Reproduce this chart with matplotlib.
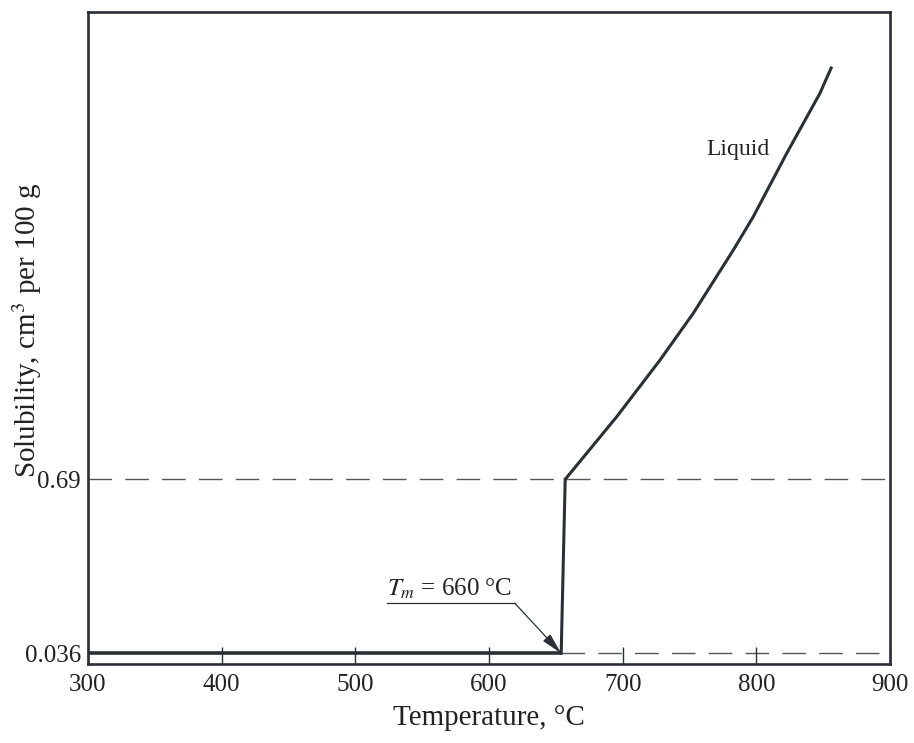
import matplotlib.pyplot as plt

plt.rcParams['font.family'] = ['Liberation Serif', 'DejaVu Serif']
plt.rcParams['mathtext.fontset'] = 'stix'

# solid-state solubility (flat) then jump at melting point
solid_t = [300, 654]
solid_s = [0.036, 0.036]
jump_t = [654, 657]
jump_s = [0.036, 0.69]
# liquid branch
liquid_t = [657, 695.5, 727.9, 752.8, 782.8, 797.7, 822.7, 847.6, 856.4]
liquid_s = [0.69, 0.925, 1.138, 1.314, 1.552, 1.677, 1.915, 2.141, 2.241]

xticks = [300, 400, 500, 600, 700, 800, 900]
yticks = [0.036, 0.69]
ytick_labels = ['0.036', '0.69']

ink = '#2b2f36'

fig = plt.figure(figsize=(9.14, 7.43), dpi=100)
ax = fig.add_axes([88/914, 1 - 664/743, (890-88)/914, (664-11.7)/743])

# reference dashed levels
ax.axhline(0.69, color='#555555', lw=1, ls=(0, (17, 9.5)), zorder=1)
ax.plot([654, 900], [0.036, 0.036], color='#555555', lw=1, ls=(0, (17, 9.5)), zorder=1)

ax.plot(solid_t, solid_s, color=ink, lw=2.6, solid_capstyle='butt', zorder=3)
ax.plot(jump_t, jump_s, color=ink, lw=2.2, zorder=3)
ax.plot(liquid_t, liquid_s, color=ink, lw=2.2, solid_capstyle='butt', zorder=3)

ax.set_xlim(300, 900)
ax.set_ylim(-0.004, 2.4475)
ax.set_xticks(xticks)
ax.set_yticks(yticks)
ax.set_yticklabels(ytick_labels)
ax.tick_params(axis='x', direction='in', length=12, width=1, color=ink,
               labelsize=18, pad=7, labelcolor='#222222')
ax.tick_params(axis='y', length=0, labelsize=18, pad=5, labelcolor='#222222')
for s in ax.spines.values():
    s.set_linewidth(1.9)
    s.set_color(ink)

# melting point annotation
ax.text(524, 0.232, r'$T_m$ = 660 °C', fontsize=18, color='#222222',
        ha='left', va='bottom')
ax.plot([523.7, 619.4], [0.224, 0.224], color=ink, lw=0.9)
ax.annotate('', xy=(654, 0.036), xytext=(619.4, 0.224),
            arrowprops=dict(arrowstyle='-|>,head_length=1.3,head_width=0.3',
                            color=ink, lw=0.9, shrinkA=0, shrinkB=0))

ax.text(786, 1.93, 'Liquid', fontsize=17, color='#222222', ha='center', va='center')

fig.text(489/914, 1 - 718/743, 'Temperature, °C', fontsize=21, color='#222222',
         ha='center', va='center')
fig.text(27/914, 1 - 330/743, 'Solubility, cm$^3$ per 100 g', fontsize=21,
         color='#222222', ha='center', va='center', rotation=90)

fig.savefig('out.png', dpi=100)
